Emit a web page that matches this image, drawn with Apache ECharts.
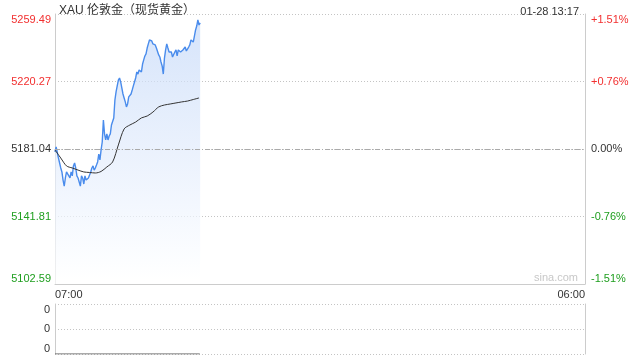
<!DOCTYPE html>
<html>
<head>
<meta charset="utf-8">
<script src="https://cdn.jsdelivr.net/npm/echarts@6/dist/echarts.min.js"></script>
<style>
html,body{margin:0;padding:0;background:#fff;}
#chart{width:640px;height:360px;}
</style>
</head>
<body>
<div id="chart"></div>
<script>
// ---------- data ----------
const titleText = 'XAU 伦敦金（现货黄金）';
const timeText = '01-28 13:17';
const watermark = 'sina.com';
const prevClose = 5181.04;
const yTickValues = [5102.59, 5141.81, 5181.04, 5220.27, 5259.49];
const yTickLabels = ['5102.59', '5141.81', '5181.04', '5220.27', '5259.49'];
const pctTickLabels = ['-1.51%', '-0.76%', '0.00%', '+0.76%', '+1.51%'];
const xTickMinutes = [0, 1380];           // minutes after 07:00
const xTickLabels = ['07:00', '06:00'];
const sessionMinutes = 1380;
const priceStepMinutes = 3;               // one price every 3 minutes from 07:00
const prices = [
  5179.3, 5182.2, 5181.6, 5175.8, 5174.7, 5170.0, 5167.7, 5163.0, 5159.5, 5164.2,
  5167.7, 5167.7, 5165.4, 5164.2, 5167.7, 5165.4, 5171.2, 5172.9, 5170.0, 5165.4,
  5164.2, 5161.9, 5159.5, 5165.4, 5164.2, 5160.7, 5165.4, 5163.0, 5161.9, 5164.2,
  5165.9, 5167.7, 5170.0, 5171.2, 5168.8, 5170.0, 5171.7, 5173.5, 5178.1, 5174.7,
  5180.5, 5185.1, 5197.9, 5189.8, 5186.3, 5189.8, 5186.3, 5188.6, 5189.8, 5195.0,
  5195.6, 5199.1, 5209.5, 5214.2, 5217.7, 5221.1, 5222.3, 5220.0, 5216.5, 5213.0,
  5210.7, 5208.4, 5205.5, 5207.2, 5211.3, 5210.7, 5213.0, 5215.3, 5217.7, 5220.0,
  5222.3, 5225.8, 5224.6, 5227.0, 5228.1, 5225.8, 5230.4, 5232.8, 5235.1, 5236.3,
  5239.7, 5242.1, 5244.4, 5245.5, 5243.8, 5242.1, 5243.2, 5241.5, 5239.7, 5238.6,
  5235.7, 5234.5, 5231.6, 5229.3, 5224.6, 5233.9, 5238.6, 5242.1, 5239.7, 5237.4,
  5236.3, 5237.4, 5234.5, 5235.1, 5237.4, 5238.6, 5235.1, 5238.6, 5239.7, 5237.4,
  5236.8, 5238.6, 5238.6, 5240.3, 5238.0, 5238.6, 5240.3, 5241.5, 5244.4, 5245.5,
  5243.2, 5246.7, 5250.2, 5252.5, 5256.0, 5253.1, 5254.3
];
const avgStepMinutes = 15;                // one average value every 15 minutes
const avgPrices = [
  5180.5, 5175.8, 5171.2, 5170.0, 5168.8, 5167.7, 5167.4, 5167.1, 5168.0, 5170.6,
  5173.5, 5183.4, 5192.7, 5195.0, 5196.7, 5199.1, 5200.2, 5202.5, 5205.5, 5206.6,
  5207.2, 5207.8, 5208.4, 5208.9, 5209.8, 5210.7
];
const volumeMinutes = [0, 377];
const volumes = [0, 0];
const volTickLabels = ['0', '0', '0'];

// ---------- chart ----------
const FONT = 'Arial, "Liberation Sans", "Noto Sans CJK SC", sans-serif';
const RED = '#f22f2f', GREEN = '#1e9e1e', DARK = '#333';
function tickColor(v) {
  const i = yTickValues.indexOf(v);
  const p = i < 0 ? v : yTickValues[i];
  if (Math.abs(p - prevClose) < 0.005) return DARK;
  return p > prevClose ? RED : GREEN;
}
const priceData = prices.map((p, i) => [i * priceStepMinutes, p]);
const avgData = avgPrices.map((p, i) => [i * avgStepMinutes, p]);
const volData = volumes.map((v, i) => [volumeMinutes[i], v]);

const chart = echarts.init(document.getElementById('chart'), null, {renderer: 'canvas'});
chart.setOption({
  animation: false,
  textStyle: {fontFamily: FONT},
  title: [
    {text: titleText, left: 54, top: 0, textStyle: {fontSize: 12, fontWeight: 'normal', color: DARK, fontFamily: FONT}},
    {text: timeText, right: 56, top: 1, textStyle: {fontSize: 11, fontWeight: 'normal', color: DARK, fontFamily: FONT}}
  ],
  graphic: [
    {type: 'text', right: 62, top: 272, style: {text: watermark, fill: '#c8c8c8', font: '11px ' + FONT}}
  ],
  grid: [
    {left: 55, right: 55, top: 14, height: 270},
    {left: 55, right: 55, top: 304, height: 50}
  ],
  xAxis: [
    {
      type: 'value', gridIndex: 0, min: 0, max: sessionMinutes,
      axisLine: {show: true, lineStyle: {color: '#ccc'}},
      axisTick: {show: false, customValues: xTickMinutes},
      splitLine: {show: false},
      axisLabel: {
        customValues: xTickMinutes, color: DARK, fontSize: 11, margin: 5,
        alignMinLabel: 'left', alignMaxLabel: 'right',
        formatter: v => xTickLabels[xTickMinutes.indexOf(v)] || ''
      }
    },
    {
      type: 'value', gridIndex: 1, min: 0, max: sessionMinutes,
      axisLine: {show: false}, axisTick: {show: false},
      axisLabel: {show: false}, splitLine: {show: false}
    }
  ],
  yAxis: [
    {
      type: 'value', gridIndex: 0, min: yTickValues[0], max: yTickValues[yTickValues.length - 1],
      axisLine: {show: true, lineStyle: {color: '#ccc'}},
      axisTick: {show: false, customValues: yTickValues},
      splitLine: {show: true, lineStyle: {color: '#c4c4c4', type: [1, 2], width: 1}},
      axisLabel: {
        customValues: yTickValues, fontSize: 11, margin: 4,
        verticalAlignMinLabel: 'bottom', verticalAlignMaxLabel: 'top',
        color: v => tickColor(v),
        formatter: v => yTickLabels[yTickValues.indexOf(v)] || ''
      }
    },
    {
      type: 'value', gridIndex: 0, position: 'right', min: yTickValues[0], max: yTickValues[yTickValues.length - 1],
      axisLine: {show: true, lineStyle: {color: '#ccc'}},
      axisTick: {show: false, customValues: yTickValues},
      splitLine: {show: false},
      axisLabel: {
        customValues: yTickValues, fontSize: 11, margin: 6,
        verticalAlignMinLabel: 'bottom', verticalAlignMaxLabel: 'top',
        color: v => tickColor(v),
        formatter: v => pctTickLabels[yTickValues.indexOf(v)] || ''
      }
    },
    {
      type: 'value', gridIndex: 1, min: 0, max: 2, interval: 1,
      axisLine: {show: true, lineStyle: {color: '#ccc'}},
      axisTick: {show: false},
      splitLine: {show: true, lineStyle: {color: '#c4c4c4', type: [1, 2], width: 1}},
      axisLabel: {
        fontSize: 11, margin: 5, color: DARK,
        verticalAlignMinLabel: 'bottom', verticalAlignMaxLabel: 'top',
        formatter: (v) => volTickLabels[v] || ''
      }
    },
    {
      type: 'value', gridIndex: 1, position: 'right', min: 0, max: 2, interval: 1,
      axisLine: {show: true, lineStyle: {color: '#ccc'}},
      axisTick: {show: false}, axisLabel: {show: false}, splitLine: {show: false}
    }
  ],
  series: [
    {
      type: 'line', xAxisIndex: 0, yAxisIndex: 0, data: priceData,
      showSymbol: false, symbol: 'none',
      lineStyle: {color: '#4a8cec', width: 1.4},
      areaStyle: {
        origin: 'start',
        color: new echarts.graphic.LinearGradient(0, 0, 0, 1, [
          {offset: 0, color: 'rgba(196,216,248,1)'},
          {offset: 1, color: 'rgba(255,255,255,1)'}
        ])
      },
      markLine: {
        silent: true, symbol: 'none', label: {show: false},
        lineStyle: {color: '#aaa', type: [5, 2, 1, 2], width: 1},
        data: [{yAxis: prevClose}]
      },
      z: 3
    },
    {
      type: 'line', xAxisIndex: 0, yAxisIndex: 0, data: avgData,
      showSymbol: false, symbol: 'none', smooth: 0.3,
      lineStyle: {color: '#333', width: 1}, z: 4
    },
    {
      type: 'line', xAxisIndex: 1, yAxisIndex: 2, data: volData,
      showSymbol: false, symbol: 'none',
      lineStyle: {color: '#555', width: 1}, z: 4
    }
  ]
});
</script>
</body>
</html>
